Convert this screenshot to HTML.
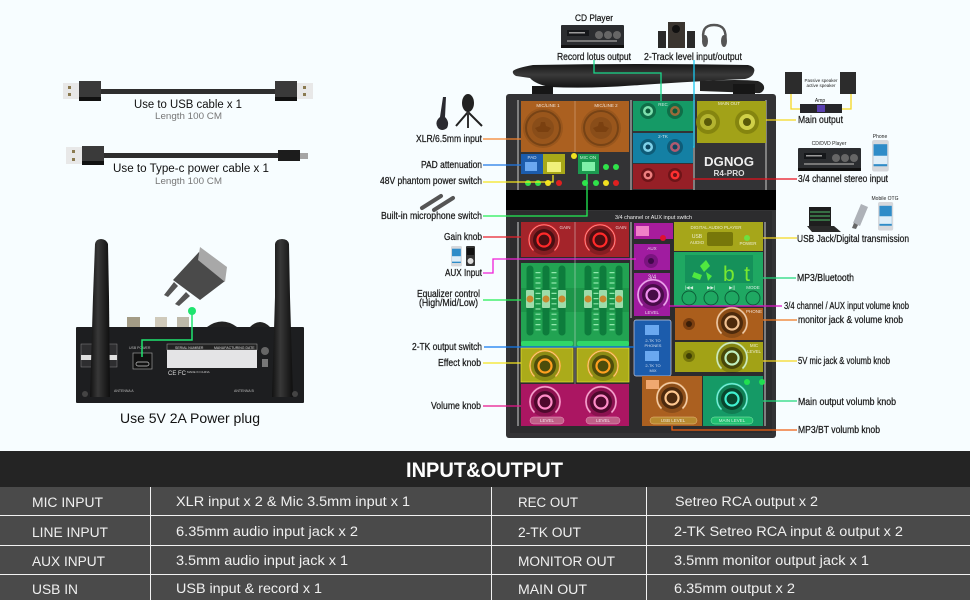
<!DOCTYPE html>
<html><head><meta charset="utf-8"><style>
html,body{margin:0;padding:0;background:#f7fdff}
svg{display:block}
text{font-family:"Liberation Sans",sans-serif}
.l{font-size:10px;fill:#1a1a1a;stroke:#1a1a1a;stroke-width:.25}
.p{font-size:4.5px;fill:#fff;fill-opacity:.8;text-anchor:middle}
.t{font-size:13.5px;fill:#f0f0f0}
.c{fill:none;stroke-width:1.3}
</style></head><body>
<svg width="970" height="600" viewBox="0 0 970 600" xmlns="http://www.w3.org/2000/svg">
<defs>
<linearGradient id="ag" x1="0" y1="0" x2="0" y2="1"><stop offset="0" stop-color="#161616"/><stop offset=".45" stop-color="#3a3a3a"/><stop offset="1" stop-color="#141414"/></linearGradient>
<linearGradient id="av" x1="0" y1="0" x2="1" y2="0"><stop offset="0" stop-color="#111"/><stop offset=".4" stop-color="#383838"/><stop offset="1" stop-color="#0e0e0e"/></linearGradient>
<g id="k"><circle r="15" fill="#000" fill-opacity=".18"/><path d="M-10.500 10.500A15 15 0 1 1 10.500 10.500" fill="none" stroke="currentColor" stroke-width="2" stroke-opacity=".75"/><path d="M-10.500 10.500A15 15 0 1 1 10.500 10.500" fill="none" stroke="#fff" stroke-width=".7" stroke-opacity=".6"/><circle r="11" fill="#000" fill-opacity=".45"/><circle r="6.500" fill="none" stroke="currentColor" stroke-width="2.200"/></g>
<g id="amp"><rect width="63" height="23" rx="1" fill="#2b2d30"/><rect y="20" width="63" height="3" fill="#111"/><rect x="6" y="5" width="22" height="6" fill="#15171a"/><rect x="8" y="7" width="16" height="1.500" fill="#9a9a9a"/><circle cx="38" cy="10" r="4" fill="#666"/><circle cx="47" cy="10" r="4" fill="#666"/><circle cx="56" cy="10" r="4" fill="#666"/><rect x="6" y="15" width="50" height="2" fill="#777"/></g>
<g id="ph"><rect width="16" height="30" rx="2" fill="#d6d8dc"/><rect x="1.500" y="4" width="13" height="21" fill="#2f8cc8"/><rect x="1.500" y="15" width="13" height="8" fill="#dfeef8"/></g>
<g id="xlr"><circle r="20" fill="#000" fill-opacity=".1"/><circle r="17" fill="none" stroke="#000" stroke-opacity=".22" stroke-width="2"/><circle r="11" fill="#000" fill-opacity=".1"/><path d="M-8 0L-3-2-2-6H2L3-2 8 0 5 4H-5Z" fill="#7a4010"/></g>
</defs>
<rect width="970" height="600" fill="#f7fdff"/>

<!-- cables -->
<rect x="63" y="83" width="16" height="16" fill="#e8e8e8"/><rect x="68" y="86" width="3" height="3" fill="#8a7a50"/><rect x="68" y="93" width="3" height="3" fill="#8a7a50"/>
<rect x="79" y="81" width="22" height="20" fill="#3a3a3a"/><rect x="79" y="97" width="22" height="4" fill="#111"/>
<rect x="101" y="89" width="174" height="5" fill="#2e2e2e"/>
<rect x="275" y="81" width="22" height="20" fill="#3a3a3a"/><rect x="275" y="97" width="22" height="4" fill="#111"/>
<rect x="297" y="83" width="16" height="16" fill="#e8e8e8"/><rect x="303" y="86" width="3" height="3" fill="#8a7a50"/><rect x="303" y="93" width="3" height="3" fill="#8a7a50"/>
<text x="134" y="108" font-size="11.500" fill="#111" textLength="108" lengthAdjust="spacingAndGlyphs">Use to USB cable x 1</text>
<text x="155" y="119" font-size="9.500" fill="#777" textLength="67" lengthAdjust="spacingAndGlyphs">Length 100 CM</text>
<rect x="66" y="147" width="16" height="17" fill="#e8e8e8"/><rect x="72" y="150" width="3" height="3" fill="#8a7a50"/><rect x="72" y="158" width="3" height="3" fill="#8a7a50"/>
<rect x="82" y="146" width="22" height="19" fill="#3a3a3a"/><rect x="82" y="161" width="22" height="4" fill="#111"/>
<rect x="104" y="153" width="174" height="5" fill="#2e2e2e"/>
<rect x="278" y="150" width="22" height="11" fill="#1c1c1c"/><rect x="300" y="153" width="8" height="6" fill="#a5a5a5"/>
<text x="113" y="172" font-size="11.500" fill="#111" textLength="156" lengthAdjust="spacingAndGlyphs">Use to Type-c power cable x 1</text>
<text x="155" y="184" font-size="9.500" fill="#777" textLength="67" lengthAdjust="spacingAndGlyphs">Length 100 CM</text>

<!-- back panel -->
<rect x="127" y="317" width="13" height="11" fill="#a39c86"/><rect x="155" y="317" width="12" height="11" fill="#cfcabb"/><rect x="177" y="317" width="12" height="11" fill="#bdb9aa"/>
<path d="M207 327Q222 316 237 327ZM250 327Q260 317 270 327Z" fill="#222"/>
<rect x="76" y="327" width="228" height="76" rx="1" fill="#1d1e20"/>
<rect x="81" y="344" width="36" height="23" fill="#2e2e30" stroke="#888" stroke-width=".5"/><rect x="81" y="355" width="36" height="5" fill="#e0e0e0"/>
<rect x="133" y="353" width="19" height="16" fill="#111" stroke="#999" stroke-width=".7"/><rect x="136" y="362" width="13" height="4" rx="2" fill="none" stroke="#ccc" stroke-width=".7"/>
<rect x="167" y="344" width="90" height="6" fill="#222" stroke="#aaa" stroke-width=".5"/>
<rect x="167" y="350" width="90" height="18" fill="#e4e4e6"/>
<text x="175" y="349" font-size="3.500" fill="#ddd">SERIAL NUMBER</text><text x="214" y="349" font-size="3.500" fill="#ddd">MANUFACTURING DATE</text>
<text x="129" y="349" font-size="3.500" fill="#bbb">USB POWER</text>
<text x="168" y="375" font-size="6" fill="#ddd">CE FC</text><text x="187" y="373" font-size="3" fill="#ccc">MADE IN CHINA</text>
<text x="114" y="392" font-size="3.500" fill="#bbb">ANTENNA A</text><text x="234" y="392" font-size="3.500" fill="#bbb">ANTENNA B</text>
<circle cx="265" cy="351" r="4" fill="#666"/><rect x="262" y="359" width="6" height="8" fill="#777"/>
<path d="M95 244Q96 239 101 239T108 244L109 297 110 397H90L93 297Z" fill="url(#av)"/>
<path d="M275 244Q276 239 282 239T289 244L290 297 293 397H272L275 297Z" fill="url(#av)"/>
<circle cx="85" cy="394" r="3" fill="#444"/><circle cx="295" cy="394" r="3" fill="#444"/>
<!-- charger -->
<path d="M199 252L225 281 200 300 173 280Z" fill="#4a4a4a"/><path d="M200 247L227 267 225 282 198 260Z" fill="#a8a8a8"/>
<path d="M174 282L164 295 168 297 178 286ZM186 292L175 304 179 306 190 296Z" fill="#555"/>
<path d="M192 311V340H142V357" fill="none" stroke="#1fe46f" stroke-width="1.500"/><circle cx="192" cy="311" r="4" fill="#1fe46f"/>
<text x="120" y="423" font-size="14" fill="#111" textLength="140" lengthAdjust="spacingAndGlyphs">Use 5V 2A Power plug</text>

<!-- mixer antennas -->
<path d="M700 81Q740 79 758 81Q765 84 764 89Q762 94 756 93L700 91Z" fill="#222"/>
<path d="M513 71Q516 68 533 65Q640 63 748 65Q756 67 754 72Q753 77 745 79Q700 81 640 85Q590 89 550 87Q535 84 530 78L516 76Q512 74 513 71Z" fill="url(#ag)"/>
<path d="M532 86H553V96H532ZM733 84H755V96H733Z" fill="#161616"/>

<!-- mixer body -->
<rect x="506" y="94" width="270" height="344" rx="3" fill="#333335"/>
<rect x="506" y="190" width="270" height="20" fill="#000"/>
<rect x="510" y="211" width="262" height="222" fill="#2c2c2e"/>
<path d="M518 100V190M631 100V190M694 100V190M766 100V190M518 222V426M631 222V318M765 222V426" stroke="#9a9a9a" stroke-width="1.500" fill="none"/>

<!-- upper panels -->
<rect x="521" y="101" width="108" height="51" fill="#ab6020"/><path d="M575 101V152" stroke="#c48a5a"/>
<use href="#xlr" x="543" y="128"/><use href="#xlr" x="601" y="128"/>
<text class="p" x="548" y="107">MIC/LINE 1</text><text class="p" x="606" y="107">MIC/LINE 2</text>
<rect x="633" y="101" width="60" height="30" fill="#159a66"/><rect x="633" y="133" width="60" height="30" fill="#1480a4"/><rect x="633" y="164" width="60" height="25" fill="#961f26"/>
<circle cx="648" cy="111" r="8" fill="#0f6e48"/><circle cx="648" cy="111" r="5" fill="#7de0ae"/><circle cx="648" cy="111" r="2.500" fill="#0c5a3a"/>
<circle cx="675" cy="111" r="8" fill="#0f6e48"/><circle cx="675" cy="111" r="5" fill="#9a6a3a"/><circle cx="675" cy="111" r="2.500" fill="#0c5a3a"/>
<circle cx="648" cy="147" r="8" fill="#0e5c78"/><circle cx="648" cy="147" r="5" fill="#7fd2ea"/><circle cx="648" cy="147" r="2.500" fill="#0c4660"/>
<circle cx="675" cy="147" r="8" fill="#0e5c78"/><circle cx="675" cy="147" r="5" fill="#b05a70"/><circle cx="675" cy="147" r="2.500" fill="#0c4660"/>
<circle cx="648" cy="175" r="7" fill="#6e1418"/><circle cx="648" cy="175" r="4.500" fill="#ee8080"/><circle cx="648" cy="175" r="2" fill="#6e1418"/>
<circle cx="675" cy="175" r="7" fill="#6e1418"/><circle cx="675" cy="175" r="4.500" fill="#ff3030"/><circle cx="675" cy="175" r="2" fill="#6e1418"/>
<text class="p" x="663" y="106">REC</text><text class="p" x="663" y="138">2-TK</text>
<rect x="697" y="101" width="69" height="42" fill="#a2a218"/>
<circle cx="708" cy="122" r="12" fill="#85850f"/><circle cx="708" cy="122" r="8" fill="#b4b430"/><circle cx="708" cy="122" r="4" fill="#5a5a08"/>
<circle cx="747" cy="122" r="12" fill="#85850f"/><circle cx="747" cy="122" r="8" fill="#d0d048"/><circle cx="747" cy="122" r="4" fill="#5a5a08"/>
<text class="p" x="729" y="105">MAIN OUT</text>
<text x="729" y="166" font-size="13" font-weight="bold" fill="#eee" text-anchor="middle" textLength="50" lengthAdjust="spacingAndGlyphs">DGNOG</text>
<text x="729" y="176" font-size="8" font-weight="bold" fill="#ddd" text-anchor="middle" textLength="31" lengthAdjust="spacingAndGlyphs">R4-PRO</text>
<rect x="521" y="154" width="22" height="20" fill="#1c5cac"/><rect x="525" y="162" width="12" height="9" fill="#6aa8f0"/>
<rect x="543" y="154" width="22" height="20" fill="#a8a818"/><rect x="547" y="162" width="14" height="10" fill="#f0f07a"/>
<rect x="578" y="154" width="21" height="20" fill="#1c9a50"/><rect x="582" y="162" width="13" height="9" fill="#80f0a8"/>
<text class="p" x="532" y="159">PAD</text><text class="p" x="588" y="159">MIC ON</text>
<circle cx="574" cy="156" r="3" fill="#f0e020"/>
<circle cx="606" cy="167" r="3" fill="#2fe24a"/><circle cx="616" cy="167" r="3" fill="#2fe24a"/>
<circle cx="528" cy="183" r="3" fill="#2fe24a"/><circle cx="538" cy="183" r="3" fill="#2fe24a"/><circle cx="548" cy="183" r="3" fill="#f0e020"/><circle cx="559" cy="183" r="3" fill="#e02020"/>
<circle cx="585" cy="183" r="3" fill="#2fe24a"/><circle cx="596" cy="183" r="3" fill="#2fe24a"/><circle cx="606" cy="183" r="3" fill="#f0e020"/><circle cx="616" cy="183" r="3" fill="#e02020"/>
<text x="615" y="219" font-size="5.500" fill="#eee" textLength="77" lengthAdjust="spacingAndGlyphs">3/4 channel or AUX input switch</text>

<!-- lower left panels -->
<rect x="521" y="222" width="108" height="35" fill="#a4242a"/>
<use href="#k" x="544" y="240" color="#ff2a2a"/><use href="#k" x="600" y="240" color="#ff2a2a"/>
<text class="p" x="565" y="229" font-size="5">GAIN</text><text class="p" x="621" y="229" font-size="5">GAIN</text>
<rect x="521" y="263" width="108" height="84" fill="#22a352"/>
<rect x="521" y="288" width="108" height="24" fill="#14803c" fill-opacity=".4"/>
<path d="M530 269V332M546 269V332M562 269V332M588 269V332M603 269V332M619 269V332" stroke="#0d7c3c" stroke-width="7" stroke-linecap="round"/>
<path d="M538 272V334M554 272V334M596 272V334M612 272V334" stroke="#8fe8ac" stroke-width="5" stroke-dasharray="1.200 4"/>
<g fill="#9ddcaa"><rect x="526" y="290" width="8" height="18" rx="1"/><rect x="542" y="290" width="8" height="18" rx="1"/><rect x="558" y="290" width="8" height="18" rx="1"/><rect x="584" y="290" width="8" height="18" rx="1"/><rect x="599" y="290" width="8" height="18" rx="1"/><rect x="615" y="290" width="8" height="18" rx="1"/></g>
<g fill="#c88a30"><circle cx="530" cy="299" r="3.500"/><circle cx="546" cy="299" r="3.500"/><circle cx="562" cy="299" r="3.500"/><circle cx="588" cy="299" r="3.500"/><circle cx="603" cy="299" r="3.500"/><circle cx="619" cy="299" r="3.500"/></g>
<path d="M575 222V426" stroke="#ddd" stroke-opacity=".6" stroke-width=".8"/>
<rect x="521" y="341" width="52" height="5" rx="2" fill="#2fd868"/><rect x="577" y="341" width="52" height="5" rx="2" fill="#2fd868"/>
<rect x="521" y="348" width="52" height="34" fill="#abab1a" stroke="#e4e430" stroke-width=".7"/><rect x="577" y="348" width="52" height="34" fill="#abab1a" stroke="#e4e430" stroke-width=".7"/>
<use href="#k" x="545" y="366" color="#ffa020"/><use href="#k" x="603" y="366" color="#ffa020"/>
<rect x="521" y="384" width="108" height="42" fill="#ab1662"/>
<use href="#k" x="545" y="402" color="#ff8cc8"/><use href="#k" x="601" y="402" color="#ff8cc8"/>
<rect x="530" y="417" width="34" height="7" rx="3.500" fill="#c06088" stroke="#f0a0c8" stroke-width=".5"/><rect x="586" y="417" width="34" height="7" rx="3.500" fill="#c06088" stroke="#f0a0c8" stroke-width=".5"/>
<text class="p" x="547" y="422">LEVEL</text><text class="p" x="603" y="422">LEVEL</text>

<!-- center panels -->
<rect x="634" y="223" width="39" height="16" fill="#a81c9c"/><rect x="636" y="226" width="13" height="10" fill="#f080c8"/><circle cx="663" cy="238" r="3" fill="#e01030"/>
<rect x="634" y="244" width="36" height="26" fill="#a01ca0"/><circle cx="651" cy="261" r="7" fill="#7a1480"/><circle cx="651" cy="261" r="3" fill="#40084a"/><text class="p" x="652" y="250">AUX</text>
<rect x="634" y="273" width="36" height="43" fill="#a01ca0"/><use href="#k" x="653" y="295" color="#f090f0"/>
<text class="p" x="652" y="279" style="font-size:6px">3/4</text><text class="p" x="652" y="314">LEVEL</text>
<rect x="634" y="320" width="37" height="56" rx="2" fill="#1c5cac" stroke="#ccd" stroke-width=".7"/>
<rect x="645" y="325" width="14" height="10" fill="#6aa8f0"/><rect x="645" y="351" width="14" height="10" fill="#6aa8f0"/>
<text class="p" x="653" y="342" style="font-size:4px">2-TK TO</text><text class="p" x="653" y="347" style="font-size:4px">PHONES</text><text class="p" x="653" y="367" style="font-size:4px">2-TK TO</text><text class="p" x="653" y="372" style="font-size:4px">MIX</text>

<!-- right panels -->
<rect x="674" y="222" width="89" height="29" fill="#a6a61a"/><rect x="707" y="232" width="26" height="14" rx="2" fill="#77770a"/><circle cx="747" cy="238" r="3" fill="#6ee040"/><text class="p" x="716" y="229">DIGITAL AUDIO PLAYER</text><text class="p" x="697" y="238" style="font-size:5px">USB</text><text class="p" x="697" y="244">AUDIO</text><text class="p" x="748" y="245">POWER</text>
<rect x="674" y="252" width="89" height="54" fill="#1fa862"/><rect x="685" y="255" width="68" height="28" fill="#15915a"/>
<path d="M700 266L706 260 710 266 704 272ZM694 272L702 275 700 280 692 277ZM706 272L712 276 708 281Z" fill="#50e840"/>
<text x="723" y="281" font-size="21" fill="#78e830" textLength="27" lengthAdjust="spacing">bt</text>
<circle cx="689" cy="298" r="7" fill="none" stroke="#0c5e38"/><circle cx="711" cy="298" r="7" fill="none" stroke="#0c5e38"/><circle cx="732" cy="298" r="7" fill="none" stroke="#0c5e38"/><circle cx="753" cy="298" r="7" fill="none" stroke="#0c5e38"/>
<text class="p" x="689" y="289">|◀◀</text><text class="p" x="711" y="289">▶▶|</text><text class="p" x="732" y="289">▶||</text><text class="p" x="753" y="289">MODE</text>
<rect x="675" y="308" width="88" height="32" fill="#ab5e1c"/><circle cx="689" cy="324" r="6" fill="#7a3e10"/><circle cx="689" cy="324" r="3" fill="#3a1e08"/><use href="#k" x="732" y="323" color="#f0c090"/><text class="p" x="754" y="313">PHONE</text>
<rect x="675" y="342" width="88" height="30" fill="#a2a216"/><circle cx="689" cy="356" r="6" fill="#77770a"/><circle cx="689" cy="356" r="3" fill="#3e3e04"/><use href="#k" x="732" y="358" color="#c0f0c0"/><text class="p" x="754" y="347">MIC</text><text class="p" x="754" y="353">LEVEL</text>
<rect x="642" y="376" width="60" height="50" fill="#ab6020"/><rect x="646" y="380" width="13" height="9" fill="#f0a870"/><use href="#k" x="672" y="398" color="#ffc890"/>
<rect x="650" y="417" width="47" height="7" rx="3.500" fill="#b88a30" stroke="#f0c080" stroke-width=".5"/><text class="p" x="673" y="422">USB LEVEL</text>
<rect x="703" y="376" width="60" height="50" fill="#159a66"/><use href="#k" x="732" y="399" color="#40f0d0"/><circle cx="747" cy="382" r="3" fill="#20e050"/><circle cx="762" cy="382" r="3" fill="#20e050"/>
<rect x="711" y="417" width="42" height="7" rx="3.500" fill="#20c070" stroke="#90f0b0" stroke-width=".5"/><text class="p" x="732" y="422">MAIN LEVEL</text>

<!-- connectors -->
<path class="c" stroke="#f5822a" d="M483 139H521"/>
<path class="c" stroke="#1e78e8" d="M483 165H521"/>
<path class="c" stroke="#f5e61e" d="M483 182H553V175"/>
<path class="c" stroke="#22ee55" d="M483 216H587V174"/>
<path class="c" stroke="#e8202a" d="M483 237H521"/>
<path class="c" stroke="#f020d8" d="M483 273H493V259H636"/>
<path class="c" stroke="#22ee55" d="M483 300H521"/>
<path class="c" stroke="#0f78f0" d="M484 347H634"/>
<path class="c" stroke="#f5e61e" d="M483 363H521"/>
<path class="c" stroke="#e8148c" d="M483 406H521"/>
<path class="c" stroke="#18d88a" d="M594 60V73H661V101"/>
<path class="c" stroke="#19c8f0" d="M694 60V147H693"/>
<path class="c" stroke="#f5d820" d="M766 120H796"/>
<path class="c" stroke="#e8101c" d="M693 179H797"/>
<path class="c" stroke="#f5d820" d="M763 238H797"/>
<path class="c" stroke="#1fd87a" d="M763 278H796"/>
<path class="c" stroke="#e010c8" d="M669 306H782"/>
<path class="c" stroke="#f07820" d="M763 320H797"/>
<path class="c" stroke="#f5d820" d="M763 361H797"/>
<path class="c" stroke="#1fd87a" d="M763 401H797"/>
<path class="c" stroke="#f06010" d="M672 426V430H797"/>

<!-- left labels -->
<text class="l" x="416" y="142" textLength="66" lengthAdjust="spacingAndGlyphs">XLR/6.5mm input</text>
<text class="l" x="421" y="168" textLength="61" lengthAdjust="spacingAndGlyphs">PAD attenuation</text>
<text class="l" x="380" y="184" textLength="102" lengthAdjust="spacingAndGlyphs">48V phantom power switch</text>
<text class="l" x="381" y="219" textLength="101" lengthAdjust="spacingAndGlyphs">Built-in microphone switch</text>
<text class="l" x="444" y="240" textLength="38" lengthAdjust="spacingAndGlyphs">Gain knob</text>
<text class="l" x="445" y="276" textLength="37" lengthAdjust="spacingAndGlyphs">AUX Input</text>
<text class="l" x="417" y="297" textLength="63" lengthAdjust="spacingAndGlyphs">Equalizer control</text>
<text class="l" x="419" y="306" textLength="59" lengthAdjust="spacingAndGlyphs">(High/Mid/Low)</text>
<text class="l" x="412" y="350" textLength="70" lengthAdjust="spacingAndGlyphs">2-TK output switch</text>
<text class="l" x="438" y="366" textLength="43" lengthAdjust="spacingAndGlyphs">Effect knob</text>
<text class="l" x="431" y="409" textLength="50" lengthAdjust="spacingAndGlyphs">Volume knob</text>

<!-- left icons -->
<path d="M438 128Q434 122 440 117L443 97H446L445 117Q450 122 447 128Q442 132 438 128Z" fill="#2a2a30"/>
<ellipse cx="468" cy="103" rx="6" ry="9" fill="#222"/><path d="M456 126L468 112 482 126" stroke="#222" stroke-width="2" fill="none"/><rect x="467" y="112" width="2" height="16" fill="#333"/>
<path d="M422 208L441 196" stroke="#555" stroke-width="4" stroke-linecap="round"/><path d="M434 210L453 198" stroke="#555" stroke-width="4" stroke-linecap="round"/>
<use href="#ph" transform="translate(451 246) scale(.68)"/><rect x="466" y="246" width="9" height="20" rx="1" fill="#333"/><circle cx="470.500" cy="261" r="3" fill="#ddd"/><rect x="467" y="248" width="7" height="7" fill="#111"/>

<!-- top icons -->
<text x="575" y="21" font-size="9.500" fill="#111" stroke="#111" stroke-width=".2" textLength="38" lengthAdjust="spacingAndGlyphs">CD Player</text>
<use href="#amp" x="561" y="25"/>
<text class="l" x="557" y="60" textLength="74" lengthAdjust="spacingAndGlyphs">Record lotus output</text>
<rect x="658" y="31" width="8" height="17" fill="#2a2a2a"/><rect x="668" y="22" width="17" height="26" fill="#3a3530"/><circle cx="676" cy="29" r="4" fill="#111"/><rect x="687" y="31" width="8" height="17" fill="#2a2a2a"/>
<path d="M704 42Q700 25 714 25T725 42" fill="none" stroke="#555" stroke-width="2.500"/><ellipse cx="705" cy="41" rx="3" ry="6" fill="#555"/><ellipse cx="724" cy="41" rx="3" ry="6" fill="#555"/>
<text class="l" x="644" y="60" textLength="98" lengthAdjust="spacingAndGlyphs">2-Track level input/output</text>

<!-- right icons -->
<rect x="785" y="72" width="17" height="22" fill="#2c2c2c"/><rect x="840" y="72" width="16" height="22" fill="#2c2c2c"/>
<text x="821" y="82" font-size="4.500" fill="#222" text-anchor="middle">Passive speaker</text><text x="821" y="87" font-size="4.500" fill="#222" text-anchor="middle">active speaker</text>
<text x="820" y="102" font-size="5" fill="#222" text-anchor="middle">Amp</text>
<path class="c" stroke="#f5d820" d="M791 94V109H800M851 94V109H842"/>
<rect x="800" y="104" width="42" height="9" fill="#26262a"/><rect x="817" y="105" width="8" height="7" fill="#5a40b0"/>
<text class="l" x="798" y="123" textLength="45" lengthAdjust="spacingAndGlyphs">Main output</text>
<text x="829" y="145" font-size="5" fill="#222" text-anchor="middle">CD/DVD Player</text>
<use href="#amp" x="798" y="148"/>
<text x="880" y="138" font-size="5" fill="#222" text-anchor="middle">Phone</text>
<use href="#ph" transform="translate(872 140) scale(1.050)"/>
<text class="l" x="798" y="182" textLength="90" lengthAdjust="spacingAndGlyphs">3/4 channel stereo input</text>
<path d="M809 207H831V226H809Z" fill="#1e1e1e"/><path d="M810 212H830M810 216H830M810 220H830" stroke="#3e8a50" stroke-width="1.500"/><path d="M807 226H834L841 232H812Z" fill="#2a2a2a"/>
<path d="M861 204L868 207 860 226 853 223Z" fill="#aeb2b8"/><path d="M854 223L858 225 856 229 852 228Z" fill="#666"/>
<text x="885" y="200" font-size="5" fill="#222" text-anchor="middle">Mobile OTG</text>
<use href="#ph" transform="translate(878 202)  scale(.95)"/>
<text class="l" x="797" y="242" textLength="112" lengthAdjust="spacingAndGlyphs">USB Jack/Digital transmission</text>
<text class="l" x="797" y="281" textLength="57" lengthAdjust="spacingAndGlyphs">MP3/Bluetooth</text>
<text class="l" x="784" y="309" textLength="125" lengthAdjust="spacingAndGlyphs">3/4 channel / AUX input volume knob</text>
<text class="l" x="798" y="323" textLength="105" lengthAdjust="spacingAndGlyphs">monitor jack &amp; volume knob</text>
<text class="l" x="798" y="364" textLength="92" lengthAdjust="spacingAndGlyphs">5V mic jack &amp; volumb knob</text>
<text class="l" x="798" y="405" textLength="98" lengthAdjust="spacingAndGlyphs">Main output volumb knob</text>
<text class="l" x="798" y="433" textLength="82" lengthAdjust="spacingAndGlyphs">MP3/BT volumb knob</text>

<!-- table -->
<rect x="0" y="451" width="970" height="36" fill="#242424"/>
<rect x="0" y="487" width="970" height="113" fill="#4a4a4a"/>
<path d="M0 515.500H970M0 545.500H970M0 574.500H970M150.500 487V600M491.500 487V600M646.500 487V600" stroke="#f2f2f2" stroke-width="1"/>
<text x="406" y="477" font-size="21" font-weight="bold" fill="#fff" textLength="157" lengthAdjust="spacingAndGlyphs">INPUT&amp;OUTPUT</text>
<text class="t" x="32" y="507" textLength="71" lengthAdjust="spacingAndGlyphs">MIC INPUT</text>
<text class="t" x="32" y="537" textLength="76" lengthAdjust="spacingAndGlyphs">LINE INPUT</text>
<text class="t" x="32" y="566" textLength="73" lengthAdjust="spacingAndGlyphs">AUX INPUT</text>
<text class="t" x="32" y="594" textLength="46" lengthAdjust="spacingAndGlyphs">USB IN</text>
<text class="t" x="176" y="506" textLength="234" lengthAdjust="spacingAndGlyphs">XLR input x 2 &amp; Mic 3.5mm input x 1</text>
<text class="t" x="176" y="536" textLength="182" lengthAdjust="spacingAndGlyphs">6.35mm audio input jack x 2</text>
<text class="t" x="176" y="565" textLength="172" lengthAdjust="spacingAndGlyphs">3.5mm audio input jack x 1</text>
<text class="t" x="176" y="593" textLength="146" lengthAdjust="spacingAndGlyphs">USB input &amp; record x 1</text>
<text class="t" x="518" y="507" textLength="60" lengthAdjust="spacingAndGlyphs">REC OUT</text>
<text class="t" x="518" y="537" textLength="63" lengthAdjust="spacingAndGlyphs">2-TK OUT</text>
<text class="t" x="518" y="566" textLength="97" lengthAdjust="spacingAndGlyphs">MONITOR OUT</text>
<text class="t" x="518" y="594" textLength="69" lengthAdjust="spacingAndGlyphs">MAIN OUT</text>
<text class="t" x="675" y="506" textLength="143" lengthAdjust="spacingAndGlyphs">Setreo RCA output x 2</text>
<text class="t" x="674" y="536" textLength="229" lengthAdjust="spacingAndGlyphs">2-TK Setreo RCA input &amp; output x 2</text>
<text class="t" x="674" y="565" textLength="195" lengthAdjust="spacingAndGlyphs">3.5mm monitor output jack x 1</text>
<text class="t" x="674" y="593" textLength="121" lengthAdjust="spacingAndGlyphs">6.35mm output x 2</text>
</svg>
</body></html>
